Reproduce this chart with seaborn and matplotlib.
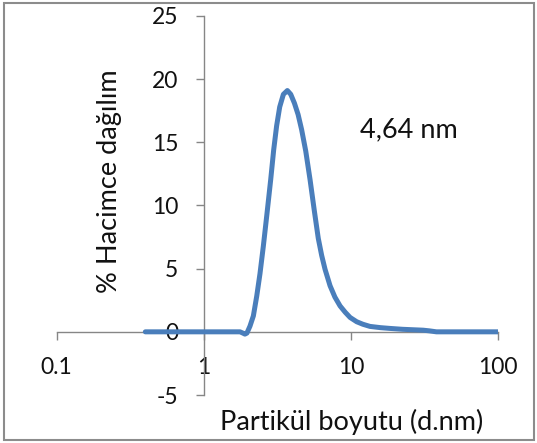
import matplotlib
matplotlib.use("Agg")
import matplotlib.pyplot as plt
from matplotlib.patches import Rectangle
from matplotlib.ticker import NullLocator, FixedLocator, FixedFormatter
import seaborn as sns
import pandas as pd

# Particle size distribution (volume %), DLS measurement
size_nm = [0.40, 0.50, 0.70, 1.00, 1.30, 1.60, 1.76, 1.84, 1.90, 1.96,
           2.056, 2.168, 2.286, 2.404, 2.535, 2.679, 2.844, 2.979, 3.119,
           3.273, 3.467, 3.690, 3.890, 4.121, 4.365, 4.613, 4.920, 5.260,
           5.623, 5.984, 6.310, 6.653, 7.194, 7.762, 8.414, 9.120, 9.840,
           10.91, 12.02, 13.43, 15.85, 18.37, 22.39, 30.83, 33.88, 38.02,
           100.0]
volume_pct = [0.0, 0.0, 0.0, 0.0, 0.0, 0.0, 0.0, -0.10, -0.18, -0.10,
              0.45, 1.26, 2.84, 4.6, 6.8, 9.3, 12.06, 14.4, 16.3,
              17.8, 18.8, 19.1, 18.8, 18.1, 17.2, 16.0, 14.3, 12.06,
              9.6, 7.4, 6.05, 4.95, 3.65, 2.75, 2.05, 1.55, 1.14,
              0.80, 0.60, 0.43, 0.33, 0.27, 0.20, 0.13, 0.08, 0.0,
              0.0]

x_ticks = [0.1, 1, 10, 100]
x_tick_labels = ["0.1", "1", "10", "100"]
y_ticks = [-5, 0, 5, 10, 15, 20, 25]
y_tick_labels = ["-5", "0", "5", "10", "15", "20", "25"]

x_title = "Partikül boyutu (d.nm)"
y_title = "% Hacimce dağılım"
peak_note = "4,64 nm"

sns.set_theme(style="white")
plt.rcParams["font.family"] = ["Lato", "DejaVu Sans"]

W, H = 537, 443
fig = plt.figure(figsize=(W / 100, H / 100), dpi=100)
fig.patch.set_facecolor("white")

# axes box in pixels: x 56.7..498.3, y 16..395
left, right, top, bottom = 56.7, 498.3, 16.0, 395.0
ax = fig.add_axes([left / W, 1 - bottom / H, (right - left) / W, (bottom - top) / H])
ax.set_facecolor("white")

df = pd.DataFrame({"size": size_nm, "vol": volume_pct})
sns.lineplot(data=df, x="size", y="vol", ax=ax, color="#4A7EBB",
             linewidth=3.6, estimator=None, sort=False, zorder=3,
             solid_capstyle="round", solid_joinstyle="round")

ax.set_xscale("log")
ax.set_xlim(0.1, 100)
ax.set_ylim(-5, 25)

axis_gray = "#868686"
for side in ("top", "right"):
    ax.spines[side].set_visible(False)
ax.spines["left"].set_position(("data", 1))
ax.spines["bottom"].set_position(("data", 0))
for side in ("left", "bottom"):
    ax.spines[side].set_color(axis_gray)
    ax.spines[side].set_linewidth(1.0)

ax.xaxis.set_major_locator(FixedLocator(x_ticks))
ax.xaxis.set_major_formatter(FixedFormatter(x_tick_labels))
ax.xaxis.set_minor_locator(NullLocator())
ax.yaxis.set_major_locator(FixedLocator(y_ticks))
ax.yaxis.set_major_formatter(FixedFormatter(y_tick_labels))

ax.tick_params(axis="both", which="major", direction="out", length=5.8,
               width=1.0, color=axis_gray, labelsize=16.5, labelcolor="#111111")
ax.tick_params(axis="x", pad=12.5, bottom=True)
ax.tick_params(axis="y", pad=12.5, left=True)

ax.set_xlabel(x_title, fontsize=19.5, color="#111111")
ax.xaxis.label.set_va("center")
ax.xaxis.set_label_coords((352 - left) / (right - left), (bottom - 422) / (bottom - top))

ax.set_ylabel(y_title, fontsize=19.5, color="#111111")
ax.yaxis.label.set_va("center")
ax.yaxis.set_label_coords((109 - left) / (right - left), (bottom - 181) / (bottom - top))

ax.text(24.8, 16.0, peak_note, fontsize=19.5, color="#111111",
        ha="center", va="center")

# outer chart-area frame
fig.patches.append(Rectangle((4 / W, 3 / H), (530 / W), (437 / H),
                             transform=fig.transFigure, fill=False,
                             edgecolor="#8c8c8c", linewidth=1.5))

fig.savefig("out.png", dpi=100)
